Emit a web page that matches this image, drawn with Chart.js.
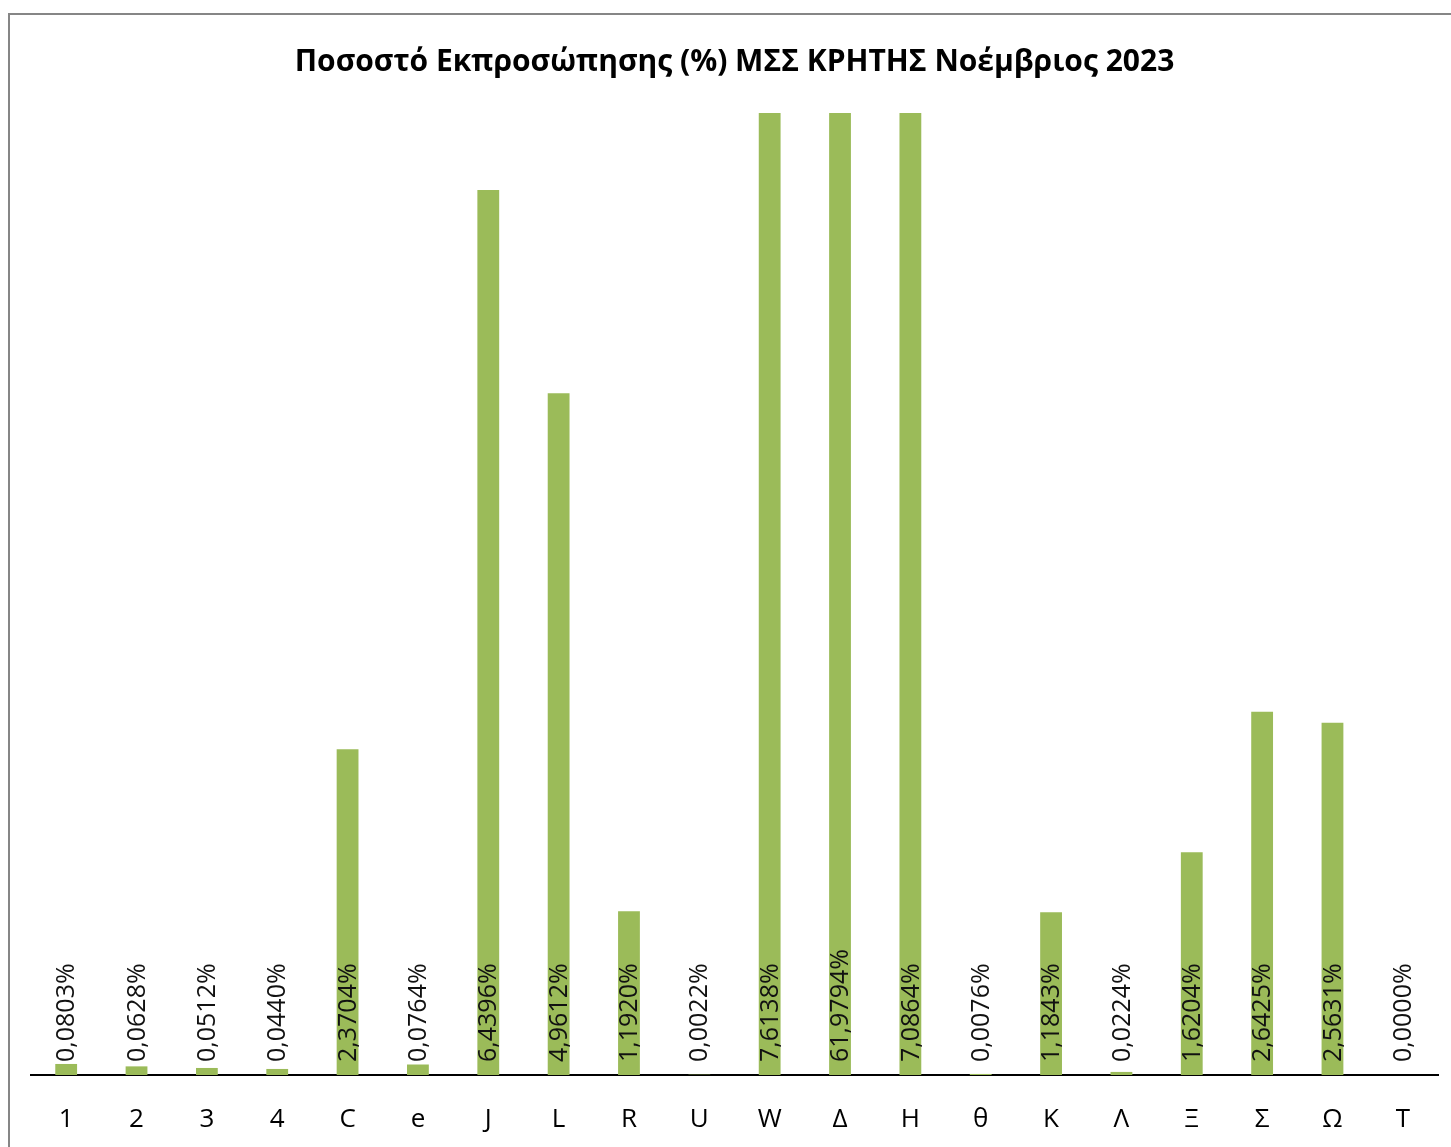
<!DOCTYPE html>
<html>
<head>
<meta charset="utf-8">
<script src="https://cdn.jsdelivr.net/npm/chart.js@4/dist/chart.umd.min.js"></script>
<style>
html,body{margin:0;padding:0;background:#fff;overflow:hidden;}
#wrap{position:absolute;left:0;top:0;width:1451px;height:1147px;}
#frame{position:absolute;left:8px;top:13px;width:1500px;height:1200px;border-left:2px solid #868686;border-top:2px solid #868686;}
canvas{position:absolute;left:0;top:0;}
</style>
</head>
<body>
<div id="wrap">
<div id="frame"></div>
<canvas id="c" width="1451" height="1147"></canvas>
</div>
<script>
const categories = ['1','2','3','4','C','e','J','L','R','U','W','Δ','H','θ','K','Λ','Ξ','Σ','Ω','T'];
const values = [0.0803,0.0628,0.0512,0.0440,2.3704,0.0764,6.4396,4.9612,1.1920,0.0022,7.6138,61.9794,7.0864,0.0076,1.1843,0.0224,1.6204,2.6425,2.5631,0.0000];
const titleText = 'Ποσοστό Εκπροσώπησης (%) ΜΣΣ ΚΡΗΤΗΣ Νοέμβριος 2023';
const yMax = 7;

const labelPlugin = {
  id: 'valLabels',
  afterDatasetsDraw(chart) {
    const ctx = chart.ctx;
    const meta = chart.getDatasetMeta(0);
    const base = chart.scales.y.getPixelForValue(0);
    ctx.save();
    ctx.font = '25px "Open Sans", sans-serif';
    ctx.fillStyle = '#111';
    ctx.textAlign = 'left';
    ctx.textBaseline = 'middle';
    meta.data.forEach((bar, i) => {
      const txt = values[i].toFixed(4).replace('.', ',') + '%';
      ctx.save();
      ctx.translate(bar.x, base - 13);
      ctx.rotate(-Math.PI / 2);
      ctx.fillText(txt, 0, 1);
      ctx.restore();
    });
    ctx.restore();
  }
};

new Chart(document.getElementById('c'), {
  type: 'bar',
  data: {
    labels: categories,
    datasets: [{
      data: values,
      backgroundColor: '#9BBB59',
      borderWidth: 0,
      barPercentage: 0.31,
      categoryPercentage: 1.0
    }]
  },
  options: {
    responsive: false,
    animation: false,
    devicePixelRatio: 1,
    layout: { padding: { left: 31, right: 13, top: 20, bottom: 0 } },
    plugins: {
      legend: { display: false },
      tooltip: { enabled: false },
      title: {
        display: true,
        text: titleText,
        color: '#000',
        font: { family: '"Open Sans", sans-serif', size: 30, weight: 'bold' },
        padding: { top: 24, bottom: 33 }
      }
    },
    scales: {
      x: {
        grid: { display: false },
        border: { display: true, color: '#000', width: 2 },
        ticks: { color: '#000', font: { family: '"Open Sans", sans-serif', size: 26 }, padding: 21, maxRotation: 0 },
        afterFit(scale) { scale.height = 72; }
      },
      y: {
        display: false,
        min: 0,
        max: yMax
      }
    }
  },
  plugins: [labelPlugin]
});
</script>
</body>
</html>
